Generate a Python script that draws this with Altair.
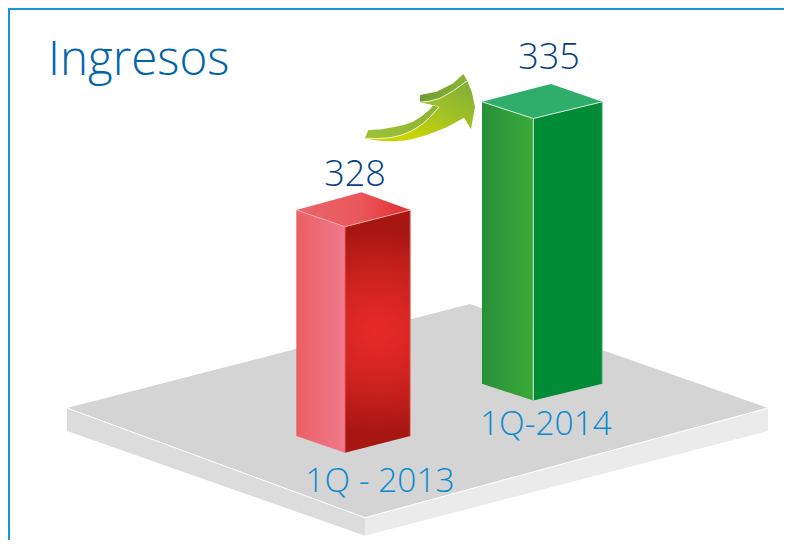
import numpy as np
import pandas as pd
import altair as alt

# ---- chart content ----
TITLE = "Ingresos"
PERIODS = ["1Q - 2013", "1Q-2014"]
VALUES = [328, 335]

# footprint of each pseudo-3D column: left, front, right, back x and ground y of front corner
BAR_LEFT = [296.3, 482.0]
BAR_FRONT = [345.0, 533.3]
BAR_RIGHT = [410.3, 602.3]
BAR_GROUND = [452.7, 400.5]

# platform outline
PLATFORM_X = [67, 365, 470, 768]
PLATFORM_TOP = [408, 331.1, 304, 408]
PLATFORM_LOW = [408, 517.7, 489.1, 408]
PLATFORM_DEPTH = 18

# arrow outline
TAIL_TOP = [(365, 138.3), (368.3, 130), (380, 129.5), (393.3, 127.3), (404, 125), (413, 121.7), (422, 116), (430, 109.3), (432.7, 105.7), (439.3, 106.7)]
CREASE = [(365, 138.3), (366.7, 138.3), (378, 138.6), (390, 137.7), (400, 135.5), (410, 131.7), (417, 127.6), (423.3, 123.3), (431, 116), (439.3, 106.7)]
BODY_LOW = [(365, 138.3), (374, 140.2), (383.3, 141), (393, 141.2), (403.3, 140.7), (415, 138.4), (426.7, 135), (446.7, 127.3), (464, 117.7), (471, 129.3), (475, 106.7)]
BODY_TOP = [(365, 138.3), (366.7, 138.3), (378, 138.6), (390, 137.7), (400, 135.5), (410, 131.7), (417, 127.6), (423.3, 123.3), (431, 116), (439.3, 106.7), (440, 98.3), (453.3, 90.7), (467.3, 80.7), (471.7, 91.7), (475, 106.7)]
WING_TOP = [(420, 95), (436.7, 91.7), (453.3, 83.3), (463.3, 74), (467.3, 80.7)]
WING_LOW = [(420, 102.3), (430, 101), (440, 98.3), (453.3, 90.7), (467.3, 80.7)]
WEDGE_LOW = [(420, 102.3), (439.3, 106.7), (440, 106.7)]
WEDGE_TOP = [(420, 102.3), (430, 101), (440, 98.3)]

X_SCALE = alt.Scale(domain=[8, 784], nice=False, zero=False)
Y_SCALE = alt.Scale(domain=[540, 8], nice=False, zero=False)
X = alt.X("x:Q", scale=X_SCALE, axis=None)
Y = alt.Y("y:Q", scale=Y_SCALE, axis=None)
Y2 = alt.Y2("y2:Q")


def hgrad(*stops, x1=0, x2=1, y1=0, y2=0):
    return alt.LinearGradient(
        gradient="linear", x1=x1, x2=x2, y1=y1, y2=y2,
        stops=[alt.GradientStop(color=c, offset=o) for o, c in stops],
    )


def band(upper, lower, fill):
    """Filled area between an upper and a lower outline."""
    ux, uy = zip(*upper)
    lx, ly = zip(*lower)
    xs = sorted(set(ux) | set(lx))
    df = pd.DataFrame({"x": xs, "y": np.interp(xs, ux, uy), "y2": np.interp(xs, lx, ly)})
    return alt.Chart(df).mark_area(color=fill, interpolate="linear", line=False, opacity=1).encode(x=X, y=Y, y2=Y2)


def line(points, color, width=1.0):
    df = pd.DataFrame(points, columns=["x", "y"]).assign(o=range(len(points)))
    return alt.Chart(df).mark_line(color=color, strokeWidth=width).encode(x=X, y=Y, order="o:Q")


def text(df, size, color, align="center"):
    return alt.Chart(pd.DataFrame(df)).mark_text(
        font="Open Sans", fontWeight=300, fontSize=size, color=color, align=align, baseline="alphabetic"
    ).encode(x=X, y=Y, text="t:N")


def column(i, left_fill, right_fills, top_fill, edge, seam, front_seam):
    """A column whose height comes from its value."""
    v = VALUES[i]
    h = (v - 299.75) * 8
    xl, xf, xr = BAR_LEFT[i], BAR_FRONT[i], BAR_RIGHT[i]
    g = BAR_GROUND[i]
    side = g - 16.7
    tf = g - h
    ts = side - h
    xb = xl + (xr - xf)
    tb = ts - 17.8
    layers = [
        band([(xl, ts), (xf, tf)], [(xl, side), (xf, g)], left_fill),
    ]
    for f in right_fills:
        layers.append(band([(xf, tf), (xr, ts)], [(xf, g), (xr, side)], f))
    layers.append(band([(xl, ts), (xb, tb), (xr, ts)], [(xl, ts), (xf, tf), (xr, ts)], top_fill))
    layers += [
        line([(xl, ts), (xf, tf), (xr, ts)], seam, 1),
        line([(xf, tf), (xf, g)], front_seam, 1),
        line([(xr, ts), (xr, side)], edge, 1),
    ]
    return layers


layers = []

# frame
layers.append(line([(8, 540), (8, 8), (784, 8)], "#1b94d2", 4))

# platform
lower_front = [(PLATFORM_X[0], PLATFORM_TOP[0]), (PLATFORM_X[1], PLATFORM_LOW[1]), (PLATFORM_X[3], PLATFORM_TOP[3])]
drop = [(x, y + PLATFORM_DEPTH + (5 if i != 1 else 0)) for i, (x, y) in enumerate(lower_front)]
layers.append(band(lower_front[:2], drop[:2], "#dcdcdc"))
layers.append(band(lower_front[1:], drop[1:], "#ebebeb"))
layers.append(band(list(zip(PLATFORM_X, PLATFORM_TOP)), list(zip(PLATFORM_X, PLATFORM_LOW)), "#d4d4d4"))
layers.append(line(lower_front, "#ffffff", 1))

# red column
layers += column(
    0,
    hgrad((0, "#ec5f66"), (1, "#f07a8c")),
    [
        hgrad((0.1, "#a81612"), (0.5, "#c2211e"), (0.9, "#a81612"), x1=0, x2=0, y1=0, y2=1),
        alt.RadialGradient(
            gradient="radial", x1=0.5, y1=0.5, x2=0.5, y2=0.5, r1=0, r2=0.42,
            stops=[alt.GradientStop(color="rgba(230,42,38,1)", offset=0),
                   alt.GradientStop(color="rgba(230,42,38,0)", offset=1)],
        ),
    ],
    hgrad((0, "#e9656d"), (0.55, "#e9585c"), (1, "#e52c2e")),
    "#e88a84",
    "#f4a6a8",
    "#e8606a",
)

# green column
layers += column(
    1,
    hgrad((0, "#288f39"), (1, "#3aaa3a")),
    ["#008c36"],
    "#2fae6b",
    "#8ccda0",
    "#d5ecd6",
    "#d5ecd6",
)

# arrow
layers.append(band(TAIL_TOP, CREASE, hgrad((0, "#9fc13a"), (1, "#8db532"))))
layers.append(band(BODY_TOP, BODY_LOW, hgrad((0.2, "#c8d400"), (0.55, "#a8c423"), (1, "#85b134"), x1=0.2, y1=1, x2=1, y2=0.2)))
layers.append(band(WEDGE_TOP, WEDGE_LOW, "#9cbf2f"))
layers.append(band(WING_TOP, WING_LOW, hgrad((0, "#6f9c31"), (1, "#8ab534"))))
layers.append(line(CREASE[1:], "#f4f8dc", 0.9))
layers.append(line(WING_LOW, "#f4f8dc", 0.9))

# text
layers.append(text({"x": [48], "y": [75], "t": [TITLE]}, 47.5, "#0064ad", "left"))
layers.append(text({"x": [355, 549], "y": [186, 69], "t": [str(v) for v in VALUES]}, 36, "#053f85"))
layers.append(text({"x": [380, 546], "y": [492, 435], "t": PERIODS}, 33.5, "#0b8bd0"))

chart = alt.layer(*layers).properties(
    width=776, height=532, padding=0, autosize=alt.AutoSizeParams(type="none")
).configure_view(stroke=None)
chart.save("out.html", embed_options={"renderer": "svg", "actions": False})
